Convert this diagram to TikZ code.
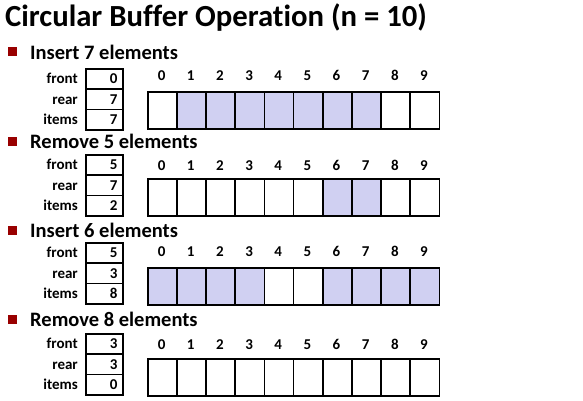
\documentclass[tikz,border=0pt]{standalone}
\usepackage{fontspec}
\setmainfont[Ligatures=NoCommon, Numbers={Lining}]{Carlito}
\definecolor{fillblue}{RGB}{208,208,242}
\definecolor{bulletred}{RGB}{153,0,0}
\tikzset{
  bullet/.style={fill=bulletred, minimum size=9pt, inner sep=0pt},
  heading/.style={anchor=west, font=\fontsize{20.5}{22}\selectfont\bfseries, inner sep=0pt},
  smalltext/.style={font=\fontsize{15}{17}\selectfont\bfseries, inner sep=0pt, text height=10pt, text depth=0pt},
  varlabel/.style={smalltext, anchor=east},
  varbox/.style={draw, line width=1.6pt, minimum width=37pt, minimum height=20.3pt, inner sep=0pt, anchor=north west},
  varval/.style={smalltext, anchor=east},
  idx/.style={smalltext},
  cell/.style={draw, line width=1.6pt, minimum width=29.15pt, minimum height=37pt, inner sep=0pt, anchor=north west},
  full/.style={cell, fill=fillblue},
}
\begin{document}
\begin{tikzpicture}[x=1pt, y=-1pt]
\useasboundingbox (0,0) rectangle (583,401);
\node[anchor=west, inner sep=0pt, font=\fontsize{30.7}{33}\selectfont\bfseries] (title) at (5,18) {Circular Buffer Operation (n = 10)};
% panel data: id / heading y / box top / index y / array top / heading / front / rear / items / filled cells
\foreach \p/\hy/\bt/\iy/\at/\txt/\fr/\re/\it/\filled in {
  a/52/68/76/91/Insert 7 elements/0/7/7/{1,2,3,4,5,6,7},
  b/141/154/165/178/Remove 5 elements/5/7/2/{6,7},
  c/230/242/251/267/Insert 6 elements/5/3/8/{0,1,2,3,6,7,8,9},
  d/319/333/344/358/Remove 8 elements/3/3/0/{}}{
  \node[bullet] (\p-bul) at (12.5,\hy) {};
  \node[heading] (\p-head) at (30,\hy) {\txt};
  \node[varbox] (\p-fbox) at (85,\bt) {};
  \node[varbox] (\p-rbox) at (85,\bt+20.3) {};
  \node[varbox] (\p-ibox) at (85,\bt+40.6) {};
  \node[varlabel] (\p-flab) at ([xshift=-7pt]\p-fbox.west) {front};
  \node[varlabel] (\p-rlab) at ([xshift=-7pt]\p-rbox.west) {rear};
  \node[varlabel] (\p-ilab) at ([xshift=-7pt]\p-ibox.west) {items};
  \node[varval] (\p-fval) at ([xshift=-6pt]\p-fbox.east) {\fr};
  \node[varval] (\p-rval) at ([xshift=-6pt]\p-rbox.east) {\re};
  \node[varval] (\p-ival) at ([xshift=-6pt]\p-ibox.east) {\it};
  \foreach \k in {0,...,9}{
    \node[idx] (\p-idx\k) at (147+29.15*\k+14.6,\iy) {\k};
    \node[cell] (\p-cell\k) at (147+29.15*\k,\at) {};
  }
  \foreach \k in \filled {
    \node[full] (\p-fill\k) at (147+29.15*\k,\at) {};
  }
}
\end{tikzpicture}
\end{document}
